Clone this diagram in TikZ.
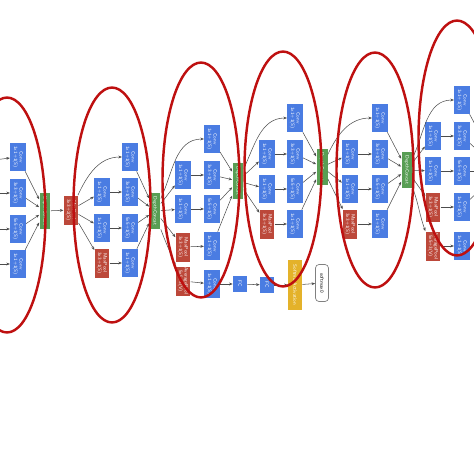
\documentclass[tikz,border=0pt]{standalone}
\usetikzlibrary{arrows.meta}

\definecolor{convblue}{RGB}{74,124,226}
\definecolor{poolred}{RGB}{188,72,58}
\definecolor{catgreen}{RGB}{88,158,84}
\definecolor{softyellow}{RGB}{228,178,42}
\definecolor{ringred}{RGB}{190,16,16}

% two-line label, turned a quarter to the right
\newcommand{\lbl}[2]{\rotatebox{-90}{\begin{tabular}{@{}c@{}}#1\\#2\end{tabular}}}
\newcommand{\lbone}[1]{\rotatebox{-90}{#1}}

\begin{document}
\begin{tikzpicture}[x=0.02cm,y=0.02cm,
  box/.style={inner sep=0pt,text=white,font=\sffamily\fontsize{2.8}{3.2}\selectfont},
  conv/.style={box,fill=convblue,minimum width=0.31cm,minimum height=0.56cm},
  pool/.style={box,fill=poolred,minimum width=0.29cm,minimum height=0.58cm},
  concat/.style={box,fill=catgreen,minimum width=0.22cm,minimum height=0.72cm},
  fc/.style={box,fill=convblue,minimum width=0.28cm,minimum height=0.32cm},
  act/.style={box,fill=softyellow,minimum width=0.28cm,minimum height=1cm},
  outp/.style={box,text=black,draw=gray,rounded corners=2pt,minimum width=0.26cm,minimum height=0.74cm},
  link/.style={->,>={Stealth[length=2pt,width=1.6pt]},draw=black!70,line width=0.3pt},
  ring/.style={draw=ringred,line width=1.4pt}]

\clip (0,0) rectangle (474,-474);

% Block a - cut at the left edge
\node[conv] (a1) at (18,-157) {\lbl{Conv}{1x1+1(S)}};
\node[conv] (a2) at (18,-193) {\lbl{Conv}{3x3+1(S)}};
\node[conv] (a3) at (18,-229) {\lbl{Conv}{5x5+1(S)}};
\node[conv] (a4) at (18,-264) {\lbl{Conv}{1x1+1(S)}};
\node[concat] (ka) at (45,-211) {\lbone{DepthConcat}};
\foreach \n/\y in {1/160,2/193,3/229,4/264} {
  \coordinate (in\n) at (-6,-\y);
  \draw[link] (in\n) -- (a\n);
  \draw[link] (a\n) -- (ka);
}

% Pooling between a and b
\node[pool] (m1) at (71,-210) {\lbl{MaxPool}{3x3+2(S)}};
\draw[link] (ka) -- (m1);

% Block b
\node[conv] (b5) at (102,-192) {\lbl{Conv}{1x1+1(S)}};
\node[conv] (b6) at (102,-228) {\lbl{Conv}{1x1+1(S)}};
\node[pool] (b7) at (102,-263) {\lbl{MaxPool}{3x3+1(S)}};
\node[conv] (b1) at (130,-157) {\lbl{Conv}{1x1+1(S)}};
\node[conv] (b2) at (130,-192) {\lbl{Conv}{3x3+1(S)}};
\node[conv] (b3) at (130,-228) {\lbl{Conv}{5x5+1(S)}};
\node[conv] (b4) at (130,-263) {\lbl{Conv}{1x1+1(S)}};
\node[concat] (kb) at (155,-211) {\lbone{DepthConcat}};
\draw[link] (m1) to[out=65,in=180] (b1);

% Block c, with the first side branch
\node[conv] (c5) at (183,-175) {\lbl{Conv}{1x1+1(S)}};
\node[conv] (c6) at (183,-209) {\lbl{Conv}{1x1+1(S)}};
\node[pool] (c7) at (183,-247) {\lbl{MaxPool}{3x3+1(S)}};
\node[pool] (c8) at (183,-281) {\lbl{AveragePool}{5x5+3(V)}};
\node[conv] (c1) at (212,-139) {\lbl{Conv}{1x1+1(S)}};
\node[conv] (c2) at (212,-175) {\lbl{Conv}{3x3+1(S)}};
\node[conv] (c3) at (212,-209) {\lbl{Conv}{5x5+1(S)}};
\node[conv] (c4) at (212,-246) {\lbl{Conv}{1x1+1(S)}};
\node[conv] (c9) at (212,-284) {\lbl{Conv}{1x1+1(S)}};
\node[concat] (kc) at (238,-181) {\lbone{DepthConcat}};
\draw[link] (kb) to[out=65,in=180] (c1);
\draw[link] (kb.south east) to[out=-70,in=110] (c8.north west);
\draw[link] (c8) -- (c9);

\node[fc] (fc1) at (240,-284) {\lbone{FC}};
\node[fc] (fc2) at (267,-285) {\lbone{FC}};
\node[act] (s0) at (295,-285) {\lbone{SoftmaxActivation}};
\node[outp] (o0) at (322,-283) {\lbone{softmax0}};
\draw[link] (c9) -- (fc1);
\draw[link] (fc1) -- (fc2);
\draw[link] (fc2) -- (s0);
\draw[link] (s0) -- (o0);

% Block d
\node[conv] (d5) at (267,-154) {\lbl{Conv}{1x1+1(S)}};
\node[conv] (d6) at (267,-189) {\lbl{Conv}{1x1+1(S)}};
\node[pool] (d7) at (267,-224) {\lbl{MaxPool}{3x3+1(S)}};
\node[conv] (d1) at (295,-118) {\lbl{Conv}{1x1+1(S)}};
\node[conv] (d2) at (295,-154) {\lbl{Conv}{3x3+1(S)}};
\node[conv] (d3) at (295,-189) {\lbl{Conv}{5x5+1(S)}};
\node[conv] (d4) at (295,-224) {\lbl{Conv}{1x1+1(S)}};
\node[concat] (kd) at (322,-167) {\lbone{DepthConcat}};
\draw[link] (kc) to[out=65,in=180] (d1);

% Block e
\node[conv] (e5) at (350,-154) {\lbl{Conv}{1x1+1(S)}};
\node[conv] (e6) at (350,-189) {\lbl{Conv}{1x1+1(S)}};
\node[pool] (e7) at (350,-224) {\lbl{MaxPool}{3x3+1(S)}};
\node[conv] (e1) at (380,-118) {\lbl{Conv}{1x1+1(S)}};
\node[conv] (e2) at (380,-154) {\lbl{Conv}{3x3+1(S)}};
\node[conv] (e3) at (380,-189) {\lbl{Conv}{5x5+1(S)}};
\node[conv] (e4) at (380,-224) {\lbl{Conv}{1x1+1(S)}};
\node[concat] (ke) at (407,-170) {\lbone{DepthConcat}};
\draw[link] (kd) to[out=65,in=180] (e1);

% Block g - cut at the right edge, second side branch
\node[conv] (g5) at (433,-136) {\lbl{Conv}{1x1+1(S)}};
\node[conv] (g6) at (433,-171) {\lbl{Conv}{1x1+1(S)}};
\node[pool] (g7) at (433,-207) {\lbl{MaxPool}{3x3+1(S)}};
\node[pool] (g8) at (433,-246) {\lbl{AveragePool}{5x5+3(V)}};
\node[conv] (g1) at (462,-100) {\lbl{Conv}{1x1+1(S)}};
\node[conv] (g2) at (462,-136) {\lbl{Conv}{3x3+1(S)}};
\node[conv] (g3) at (462,-171) {\lbl{Conv}{5x5+1(S)}};
\node[conv] (g4) at (462,-207) {\lbl{Conv}{1x1+1(S)}};
\node[conv] (g9) at (462,-246) {\lbl{Conv}{1x1+1(S)}};
\coordinate (kg) at (500,-171);
\draw[link] (ke) to[out=65,in=180] (g1);
\draw[link] (ke.south east) to[out=-70,in=110] (g8.north west);
\draw[link] (g8) -- (g9);

% inner links of blocks b, c, d, e, g
\foreach \s/\k/\i in {b/kb/m1,c/kc/kb,d/kd/kc,e/ke/kd,g/kg/ke} {
  \draw[link] (\i) -- (\s5);
  \draw[link] (\i) -- (\s6);
  \draw[link] (\i) -- (\s7);
  \draw[link] (\s5) -- (\s2);
  \draw[link] (\s6) -- (\s3);
  \draw[link] (\s7) -- (\s4);
  \foreach \n in {1,...,4}
    \draw[link] (\s\n) -- (\k);
}

% red rings round the blocks
\foreach \cx/\cy in {7/215,112/205,201/180,283/169,375/170,457/138}
  \draw[ring] (\cx,-\cy) ellipse [x radius=0.77cm, y radius=2.35cm];

\end{tikzpicture}
\end{document}
